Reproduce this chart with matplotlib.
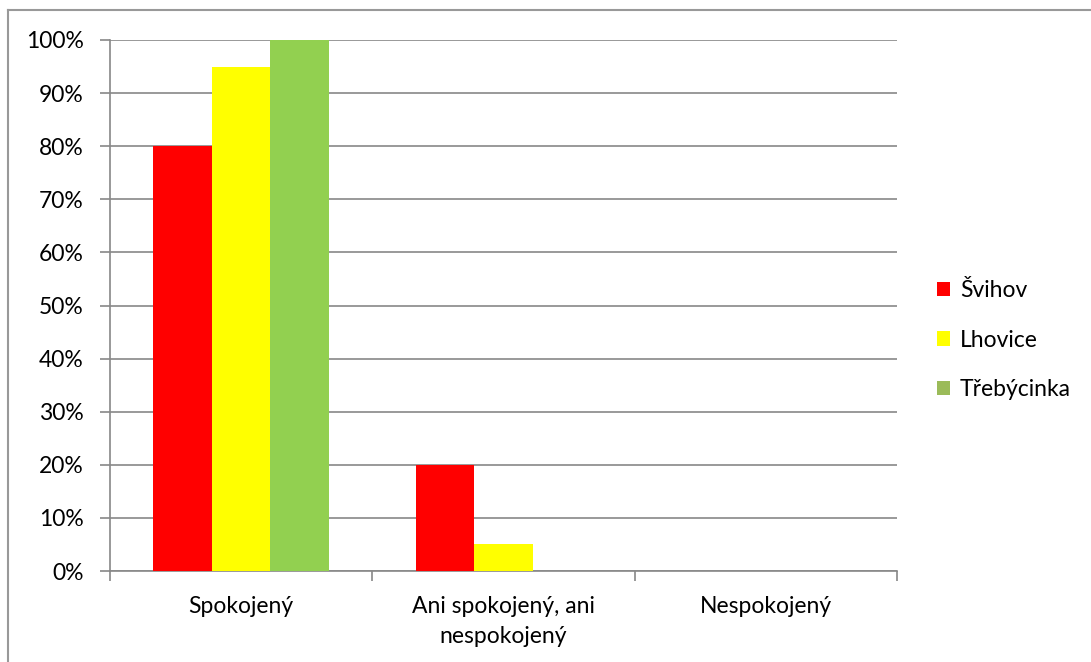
import matplotlib.pyplot as plt
import numpy as np
from matplotlib.patches import Patch
from matplotlib.lines import Line2D
from matplotlib.ticker import FixedLocator, NullFormatter

categories = ['Spokojený', 'Ani spokojený, ani\nnespokojený', 'Nespokojený']
series = ['Švihov', 'Lhovice', 'Třebýcinka']
values = {
    'Švihov': [80, 20, 0],
    'Lhovice': [95, 5, 0],
    'Třebýcinka': [100, 0, 0],
}
bar_colors = ['#FF0000', '#FFFF00', '#92D050']
legend_colors = ['#FF0000', '#FFFF00', '#9BBB59']
yticks = np.arange(0, 101, 10)

plt.rcParams['font.family'] = ['Lato', 'DejaVu Sans']
grid_c = '#888888'
fs = 16.5

fig = plt.figure(figsize=(10.91, 6.62), dpi=100)
ax = fig.add_axes([110 / 1091, 1 - 571 / 662, 787 / 1091, 531 / 662])

x = np.arange(len(categories))
w = 0.223
for i, name in enumerate(series):
    ax.bar(x + (i - 1) * w, values[name], width=w, color=bar_colors[i], zorder=3)

ax.set_xlim(-0.5, len(categories) - 0.5)
ax.set_ylim(0, 100)
ax.set_yticks(yticks)
ax.set_yticklabels([f'{v}%' for v in yticks], fontsize=fs)
ax.yaxis.grid(True, color=grid_c, linewidth=1.2, zorder=0)

# category labels centred, tick marks on the boundaries
ax.xaxis.set_major_locator(FixedLocator(np.arange(len(categories) + 1) - 0.5))
ax.xaxis.set_major_formatter(NullFormatter())
ax.xaxis.set_minor_locator(FixedLocator(x))
ax.set_xticklabels(categories, minor=True, fontsize=fs, linespacing=1.55)
ax.tick_params(axis='x', which='major', length=7, width=1.2, color=grid_c, direction='out')
ax.tick_params(axis='x', which='minor', length=0, pad=18)
ax.tick_params(axis='y', length=7, width=1.2, color=grid_c, pad=12)

for s in ['top', 'right']:
    ax.spines[s].set_visible(False)
for s in ['left', 'bottom']:
    ax.spines[s].set_color(grid_c)
    ax.spines[s].set_linewidth(1.2)

handles = [Patch(facecolor=c, edgecolor='none') for c in legend_colors]
ax.legend(handles, series, loc='center left', bbox_to_anchor=(1.024, 0.435),
          frameon=False, fontsize=fs, labelspacing=1.25,
          handlelength=0.58, handleheight=0.58, handletextpad=0.45)

# outer chart frame (only top and left edges visible)
fig.add_artist(Line2D([8 / 1091, 1], [1 - 10 / 662] * 2, transform=fig.transFigure,
                      color='#999999', linewidth=1.5))
fig.add_artist(Line2D([8 / 1091] * 2, [0, 1 - 10 / 662], transform=fig.transFigure,
                      color='#999999', linewidth=1.5))

fig.savefig('out.png', dpi=100)
